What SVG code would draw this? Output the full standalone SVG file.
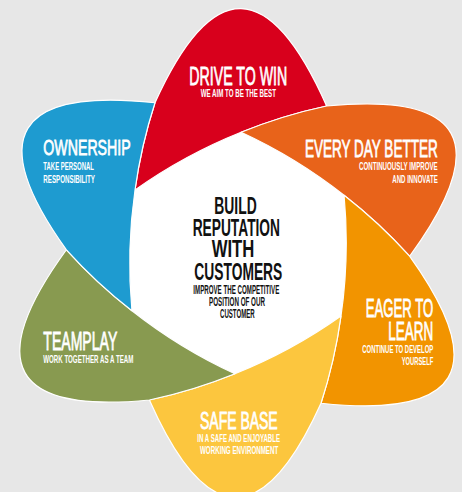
<svg xmlns="http://www.w3.org/2000/svg" xmlns:xlink="http://www.w3.org/1999/xlink" width="462" height="492" viewBox="0 0 462 492">
<style>
.petal{stroke:#ffffff;stroke-width:1.2;stroke-linejoin:round}
.t{font-family:"Liberation Sans",Arial,sans-serif;fill:#ffffff;stroke:#ffffff;stroke-width:0.45;font-weight:normal}
.s{font-family:"Liberation Sans",Arial,sans-serif;fill:#ffffff;font-weight:bold}
.c{font-family:"Liberation Sans",Arial,sans-serif;fill:#111111;font-weight:bold}
</style>
<defs>
<path id="petal" d="M -103,-63 A 510 510 0 0 1 3.06,-120.7 A 510 510 0 0 1 88.6,-147 Q 3,-340 -83,-150.2 A 510 510 0 0 0 -103,-63 Z"/>
</defs>
<rect x="0" y="0" width="462" height="492" fill="#e7e7e7"/>
<g id="center">
<path fill="#ffffff" transform="translate(238 253)" d="M -103,-63 A 510 510 0 0 1 3.06,-120.7 A 510 510 0 0 1 106.06,-57.7 A 510 510 0 0 1 103,63 A 510 510 0 0 1 -3.06,120.7 A 510 510 0 0 1 -106.06,57.7 A 510 510 0 0 1 -103,-63 Z"/>
<text class="c" transform="scale(1 1.75)" x="214.3" y="122.457" font-size="14" textLength="42.4" lengthAdjust="spacingAndGlyphs">BUILD</text>
<text class="c" transform="scale(1 1.75)" x="192.7" y="134.686" font-size="14" textLength="87.3" lengthAdjust="spacingAndGlyphs">REPUTATION</text>
<text class="c" transform="scale(1 1.75)" x="211.7" y="147.029" font-size="14" textLength="42.6" lengthAdjust="spacingAndGlyphs">WITH</text>
<text class="c" transform="scale(1 1.75)" x="194.3" y="160" font-size="14" textLength="88" lengthAdjust="spacingAndGlyphs">CUSTOMERS</text>
<text class="c" transform="scale(1 2)" x="193.3" y="147" font-size="6.25" textLength="86" lengthAdjust="spacingAndGlyphs">IMPROVE THE COMPETITIVE</text>
<text class="c" transform="scale(1 2)" x="209" y="153" font-size="6.25" textLength="56" lengthAdjust="spacingAndGlyphs">POSITION OF OUR</text>
<text class="c" transform="scale(1 2)" x="220" y="159.15" font-size="6.25" textLength="34.7" lengthAdjust="spacingAndGlyphs">CUSTOMER</text>
</g>
<g id="drive-to-win">
<use xlink:href="#petal" href="#petal" class="petal" fill="#d8001c" transform="translate(238 253)"/>
<text class="t" transform="scale(1 1.75)" x="189.3" y="48.571" font-size="14.29" textLength="98" lengthAdjust="spacingAndGlyphs">DRIVE TO WIN</text>
<text class="s" transform="scale(1 2)" x="200.7" y="48.65" font-size="5.1" textLength="75.3" lengthAdjust="spacingAndGlyphs">WE AIM TO BE THE BEST</text>
</g>
<g id="every-day-better">
<use xlink:href="#petal" href="#petal" class="petal" fill="#e8631a" transform="translate(238 253) rotate(60)"/>
<text class="t" transform="scale(1 1.75)" x="305" y="89.543" font-size="13.71" textLength="132.7" lengthAdjust="spacingAndGlyphs">EVERY DAY BETTER</text>
<text class="s" transform="scale(1 2)" x="359" y="85" font-size="5.25" textLength="78.7" lengthAdjust="spacingAndGlyphs">CONTINUOUSLY IMPROVE</text>
<text class="s" transform="scale(1 2)" x="392.3" y="91.65" font-size="5.25" textLength="45.4" lengthAdjust="spacingAndGlyphs">AND INNOVATE</text>
</g>
<g id="eager-to-learn">
<use xlink:href="#petal" href="#petal" class="petal" fill="#f29400" transform="translate(238 253) rotate(120)"/>
<text class="t" transform="scale(1 1.75)" x="365.7" y="181.314" font-size="14.57" textLength="67.6" lengthAdjust="spacingAndGlyphs">EAGER TO</text>
<text class="t" transform="scale(1 1.75)" x="388.3" y="194.286" font-size="14.57" textLength="45" lengthAdjust="spacingAndGlyphs">LEARN</text>
<text class="s" transform="scale(1 2)" x="362.3" y="176.65" font-size="5.6" textLength="71" lengthAdjust="spacingAndGlyphs">CONTINUE TO DEVELOP</text>
<text class="s" transform="scale(1 2)" x="401.7" y="182.5" font-size="5.6" textLength="31.6" lengthAdjust="spacingAndGlyphs">YOURSELF</text>
</g>
<g id="safe-base">
<use xlink:href="#petal" href="#petal" class="petal" fill="#fcc63e" transform="translate(238 253) rotate(180)"/>
<text class="t" transform="scale(1 1.75)" x="200" y="245.143" font-size="13.71" textLength="77.7" lengthAdjust="spacingAndGlyphs">SAFE BASE</text>
<text class="s" transform="scale(1 2)" x="197.3" y="220.85" font-size="5.35" textLength="82.7" lengthAdjust="spacingAndGlyphs">IN A SAFE AND ENJOYABLE</text>
<text class="s" transform="scale(1 2)" x="200" y="227" font-size="5.35" textLength="78.3" lengthAdjust="spacingAndGlyphs">WORKING ENVIRONMENT</text>
</g>
<g id="teamplay">
<use xlink:href="#petal" href="#petal" class="petal" fill="#889a50" transform="translate(238 253) rotate(240)"/>
<text class="t" transform="scale(1 1.75)" x="43.3" y="200" font-size="14.57" textLength="74" lengthAdjust="spacingAndGlyphs">TEAMPLAY</text>
<text class="s" transform="scale(1 2)" x="43.3" y="181.35" font-size="5.35" textLength="90" lengthAdjust="spacingAndGlyphs">WORK TOGETHER AS A TEAM</text>
</g>
<g id="ownership">
<use xlink:href="#petal" href="#petal" class="petal" fill="#1e9bd0" transform="translate(238 253) rotate(300)"/>
<text class="t" transform="scale(1 1.75)" x="43.3" y="88.571" font-size="12.57" textLength="87.4" lengthAdjust="spacingAndGlyphs">OWNERSHIP</text>
<text class="s" transform="scale(1 2)" x="43.3" y="85" font-size="5.5" textLength="50.7" lengthAdjust="spacingAndGlyphs">TAKE PERSONAL</text>
<text class="s" transform="scale(1 2)" x="43.3" y="91.35" font-size="5.5" textLength="51.7" lengthAdjust="spacingAndGlyphs">RESPONSIBILITY</text>
</g>
</svg>
